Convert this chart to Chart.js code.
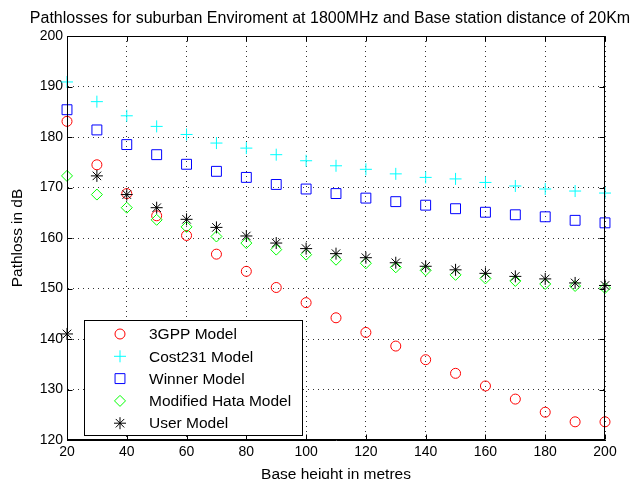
<!DOCTYPE html>
<html>
<head>
<meta charset="utf-8">
<script src="https://cdn.jsdelivr.net/npm/chart.js@4.4.1/dist/chart.umd.min.js"></script>
<style>
	html, body { margin: 0; padding: 0; background: #fff; }
	canvas { display: block; }
</style>
</head>
<body>
<canvas id="mycanvas" width="637" height="479"></canvas>
<script>
// base station heights (m)
var heights = [20, 30, 40, 50, 60, 70, 80, 90, 100, 110, 120, 130, 140, 150, 160, 170, 180, 190, 200];

// path losses in dB
var gpp3 = [183.1, 174.5, 168.8, 164.4, 160.5, 156.8, 153.4, 150.2, 147.2, 144.2, 141.3, 138.6, 135.9, 133.2, 130.7, 128.1, 125.5, 123.6, 123.6];
var cost231 = [190.9, 187.0, 184.2, 182.1, 180.5, 178.8, 177.8, 176.5, 175.3, 174.3, 173.6, 172.7, 172.0, 171.7, 171.0, 170.3, 169.7, 169.3, 168.9];
var winner = [185.4, 181.4, 178.5, 176.5, 174.6, 173.2, 172.0, 170.6, 169.7, 168.8, 167.9, 167.2, 166.5, 165.8, 165.1, 164.6, 164.2, 163.5, 163.0];
var hata = [172.3, 168.6, 166.0, 163.6, 162.2, 160.3, 159.0, 157.7, 156.7, 155.7, 155.0, 154.2, 153.6, 152.7, 152.0, 151.5, 150.9, 150.5, 150.1];
var user = [141.0, 172.3, 168.6, 166.0, 163.7, 162.1, 160.4, 159.0, 157.9, 156.9, 156.1, 155.1, 154.4, 153.7, 153.0, 152.4, 151.9, 151.1, 150.6];

var seriesNames = ["3GPP Model", "Cost231 Model", "Winner Model", "Modified Hata Model", "User Model"];
var chartTitle = "Pathlosses for suburban Enviroment at 1800MHz and Base station distance of 20Km";

var FONT = "'Liberation Sans', Arial, sans-serif";

function toPoints(vals) {
	var pts = [];
	for (var i in vals) {
		pts.push({ x: heights[i], y: vals[i] });
	}
	return pts;
}

function series(label, vals, color, style, r, order) {
	return {
		label: label,
		data: toPoints(vals),
		showLine: false,
		pointStyle: style,
		pointRadius: r,
		pointHoverRadius: r,
		borderColor: color,
		backgroundColor: "rgba(0,0,0,0)",
		pointBorderWidth: 1,
		borderWidth: 1,
		clip: false,
		order: order
	};
}

var chartdata = {
	datasets: [
		series(seriesNames[0], gpp3, "#ff0000", "circle", 5, 5),
		series(seriesNames[1], cost231, "#00ffff", "cross", 6, 4),
		series(seriesNames[2], winner, "#0000ff", "rect", 7, 3),
		series(seriesNames[3], hata, "#00ff00", "rectRot", 5.5, 2),
		series(seriesNames[4], user, "#000000", "star", 6, 1)
	]
};

// title, axes box, inward ticks and the legend box inside the plot
var framePlugin = {
	id: "frame",
	afterDraw: function(chart) {
		var ctx = chart.ctx;
		var a = chart.chartArea;
		var xs = chart.scales.x, ys = chart.scales.y;
		ctx.save();

		// title (MATLAB centres it over the axes, a bit right of the canvas centre)
		ctx.fillStyle = "#000";
		ctx.font = "16px " + FONT;
		ctx.textAlign = "center";
		ctx.textBaseline = "middle";
		ctx.fillText(chartTitle, 330, 19);
		ctx.textAlign = "left";

		ctx.strokeStyle = "#000";
		ctx.lineWidth = 1;
		var L = Math.round(a.left) + 0.5, R = Math.round(a.right) - 0.5;
		var T = Math.round(a.top) + 0.5, B = Math.round(a.bottom) - 0.5;
		ctx.strokeRect(L, T, R - L, B - T);
		ctx.beginPath();
		xs.ticks.forEach(function(t) {
			var px = Math.round(xs.getPixelForValue(t.value)) + 0.5;
			ctx.moveTo(px, B); ctx.lineTo(px, B - 5);
			ctx.moveTo(px, T); ctx.lineTo(px, T + 5);
		});
		ys.ticks.forEach(function(t) {
			var py = Math.round(ys.getPixelForValue(t.value)) + 0.5;
			ctx.moveTo(L, py); ctx.lineTo(L + 5, py);
			ctx.moveTo(R, py); ctx.lineTo(R - 5, py);
		});
		ctx.stroke();

		// legend
		var lx = 84.5, ly = 320.5, lw = 218, lh = 115;
		ctx.fillStyle = "#fff";
		ctx.fillRect(lx, ly, lw, lh);
		ctx.strokeRect(lx, ly, lw, lh);
		ctx.font = "15.5px " + FONT;
		chart.data.datasets.forEach(function(ds, i) {
			var yy = 334 + i * 22.3;
			ctx.strokeStyle = ds.borderColor;
			ctx.fillStyle = "rgba(0,0,0,0)";
			ctx.lineWidth = 1;
			Chart.helpers.drawPoint(ctx, { pointStyle: ds.pointStyle, radius: ds.pointRadius, rotation: 0, borderWidth: 1 }, 120, yy);
			ctx.fillStyle = "#000";
			ctx.fillText(ds.label, 149, yy + 1);
		});
		ctx.restore();
	}
};

var ctx = document.getElementById("mycanvas");

var ScatterGraph = new Chart(ctx, {
	type: "scatter",
	data: chartdata,
	plugins: [framePlugin],
	options: {
		responsive: false,
		animation: false,
		layout: { padding: { left: 0, right: 32, top: 36, bottom: 0 } },
		plugins: {
			legend: { display: false },
			tooltip: { enabled: false },
			title: { display: false }
		},
		scales: {
			x: {
				type: "linear",
				min: 20,
				max: 200,
				afterFit: function(s) { s.height = 39; },
				ticks: { stepSize: 20, color: "#000", font: { family: FONT, size: 14 }, padding: 4, maxRotation: 0 },
				grid: { color: "#333", lineWidth: 1, drawTicks: false },
				border: { display: true, color: "#000", dash: [1, 4] },
				title: { display: true, text: "Base height in metres", color: "#000", font: { family: FONT, size: 15.5 }, padding: { top: 0, bottom: -5 } }
			},
			y: {
				type: "linear",
				min: 120,
				max: 200,
				afterFit: function(s) { s.width = 67; },
				ticks: { stepSize: 10, color: "#000", font: { family: FONT, size: 14 }, padding: 4 },
				grid: { color: "#333", lineWidth: 1, drawTicks: false },
				border: { display: true, color: "#000", dash: [1, 4] },
				title: { display: true, text: "Pathloss in dB", color: "#000", font: { family: FONT, size: 15.4 }, padding: { top: 9, bottom: 0 } }
			}
		}
	}
});
</script>
</body>
</html>
